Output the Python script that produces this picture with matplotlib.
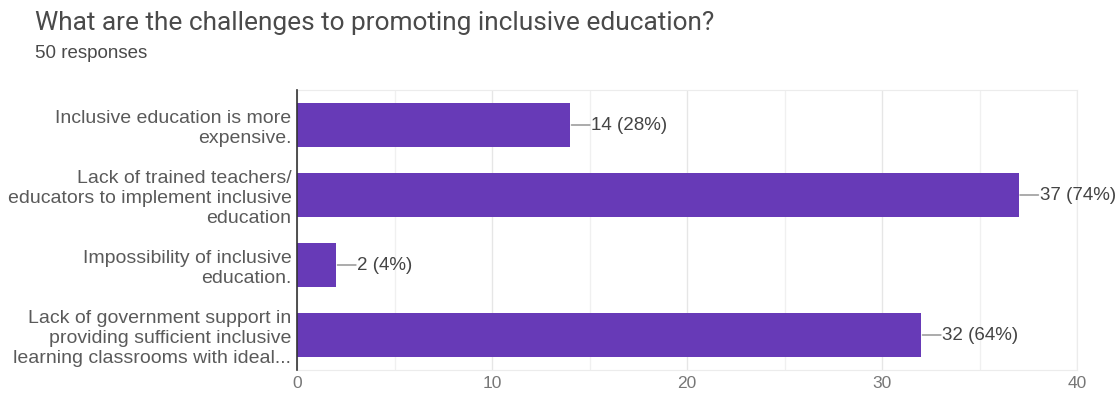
import matplotlib
matplotlib.use("Agg")
import matplotlib.pyplot as plt
from matplotlib.ticker import MultipleLocator

categories = [
    "Inclusive education is more\nexpensive.",
    "Lack of trained teachers/\neducators to implement inclusive\neducation",
    "Impossibility of inclusive\neducation.",
    "Lack of government support in\nproviding sufficient inclusive\nlearning classrooms with ideal...",
]
counts = [14, 37, 2, 32]
total = 50
x_ticks = [0, 10, 20, 30, 40]

W, H = 1119, 394
fig = plt.figure(figsize=(W / 100, H / 100), dpi=100)
fig.patch.set_facecolor("white")

ax = fig.add_axes([297 / W, 1 - 370 / H, 780 / W, 280 / H])
ypos = list(range(len(categories)))
ax.barh(ypos, counts, height=0.62, color="#673ab7", zorder=3)
ax.set_ylim(len(categories) - 0.5, -0.5)
ax.set_xlim(0, 40)
ax.set_xticks(x_ticks)
ax.xaxis.set_minor_locator(MultipleLocator(5))
ax.grid(axis="x", which="major", color="#e6e6e6", lw=1, zorder=0)
ax.grid(axis="x", which="minor", color="#f0f0f0", lw=1, zorder=0)
ax.set_yticks(ypos)
ax.set_yticklabels(categories, fontsize=14, color="#5a5a5a", family="Liberation Sans",
                   linespacing=1.25)
for lbl in ax.get_xticklabels():
    lbl.set_family("Liberation Sans")
ax.tick_params(axis="x", which="both", length=0, pad=4, labelsize=12.5, labelcolor="#777777")
ax.tick_params(axis="y", length=0, pad=4)
for s in ["top", "right", "bottom"]:
    ax.spines[s].set_color("#ececec")
ax.spines["left"].set_color("#333333")
ax.spines["left"].set_linewidth(1.2)
ax.spines["left"].set_zorder(4)

for i, v in enumerate(counts):
    ax.annotate("", xy=(v, i), xytext=(20, 0), textcoords="offset pixels",
                xycoords="data",
                arrowprops=dict(arrowstyle="-", color="#8a8a8a", lw=1, shrinkA=0, shrinkB=1))
    ax.annotate(f"{v} ({round(v * 100 / total)}%)", xy=(v, i), xytext=(21, 0),
                textcoords="offset pixels", va="center", ha="left",
                fontsize=13.5, color="#444444", family="Liberation Sans",
                annotation_clip=False)

fig.text(35 / W, 1 - 23 / H, "What are the challenges to promoting inclusive education?",
         fontsize=18.9, color="#4a4a4a", family="Roboto", va="center", ha="left")
fig.text(35 / W, 1 - 53 / H, "50 responses", fontsize=13.5, color="#4a4a4a",
         family="Liberation Sans", va="center", ha="left")

fig.savefig("out.png", dpi=100, facecolor="white")
